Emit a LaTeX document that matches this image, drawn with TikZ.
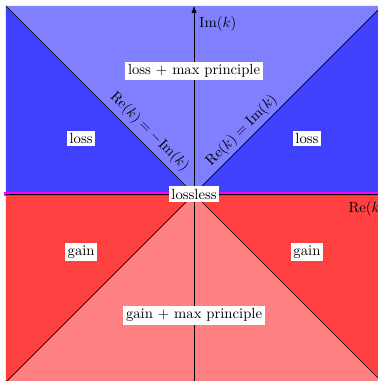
\documentclass[tikz,border=0pt]{standalone}
\usetikzlibrary{arrows.meta}
\definecolor{lossmax}{HTML}{8080FF}
\definecolor{lossside}{HTML}{4040FF}
\definecolor{gainmax}{HTML}{FF8080}
\definecolor{gainside}{HTML}{FF4040}
\definecolor{lossless}{HTML}{FF00FF}

\begin{document}
\begin{tikzpicture}[>=Latex,line join=round,
 regionlabel/.style={fill=white,inner sep=1.8pt}]
\useasboundingbox (-4.64,-4.47) rectangle (4.38,4.64);
% Sectors of the complex k plane.
\fill[lossmax] (0,0)--(-4.5,4.5)--(4.5,4.5)--cycle;
\fill[lossside] (0,0)--(-4.5,4.5)--(-4.5,0)--cycle;
\fill[lossside] (0,0)--(4.5,4.5)--(4.5,0)--cycle;
\fill[gainmax] (0,0)--(-4.5,-4.5)--(4.5,-4.5)--cycle;
\fill[gainside] (0,0)--(-4.5,-4.5)--(-4.5,0)--cycle;
\fill[gainside] (0,0)--(4.5,-4.5)--(4.5,0)--cycle;
% Diagonals bounding the max principle sectors.
\draw (-4.5,4.5)--(0,0)
 node[pos=.715,above,sloped] (diagL) {$\mathrm{Re}(k)=-\mathrm{Im}(k)$};
\draw (0,0)--(4.5,4.5)
 node[pos=.295,above,sloped,yshift=-1pt] (diagR) {$\mathrm{Re}(k)=\mathrm{Im}(k)$};
\draw (0,0)--(-4.5,-4.5) (0,0)--(4.5,-4.5);
% Axes, with the lossless real line on top.
\draw[lossless,line width=2.2pt] (-4.55,0)--(4.55,0);
\draw[->] (-4.5,0)--(4.6,0);
\draw[->] (0,-4.5)--(0,4.5);
\node[anchor=north east] (reaxis) at (4.7,-.05) {$\mathrm{Re}(k)$};
\node[right] (imaxis) at (0,4.08) {$\mathrm{Im}(k)$};
% Region labels.
\node[regionlabel] (losstop) at (0,2.95) {loss $+$ max principle};
\node[regionlabel] (lossleft) at (-2.7,1.33) {loss};
\node[regionlabel] (lossright) at (2.7,1.33) {loss};
\node[regionlabel] (lossless0) at (0,0) {lossless};
\node[regionlabel] (gainleft) at (-2.7,-1.38) {gain};
\node[regionlabel] (gainright) at (2.7,-1.38) {gain};
\node[regionlabel] (gainbottom) at (0,-2.9) {gain $+$ max principle};
\end{tikzpicture}
\end{document}
